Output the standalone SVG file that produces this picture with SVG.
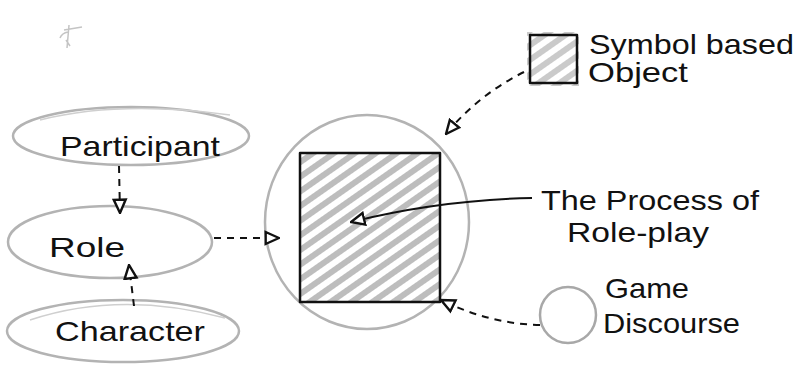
<svg xmlns="http://www.w3.org/2000/svg" width="799" height="374" viewBox="0 0 799 374">
<style>
.bg{fill:#ffffff}
.oval{fill:none;stroke:#b3b3b3;stroke-width:2.5}
.oval2{fill:none;stroke:#cfcfcf;stroke-width:1.5}
.ink{fill:none;stroke:#111;stroke-width:2.5;stroke-linejoin:round}
.lbl{font-family:"Liberation Sans",Arial,sans-serif;font-size:28px;fill:#111}
.dash{fill:none;stroke:#111;stroke-width:2;stroke-dasharray:7 6}
.solid{fill:none;stroke:#111;stroke-width:2}
</style>
<defs>
<pattern id="hatch" patternUnits="userSpaceOnUse" width="12" height="12" patternTransform="rotate(-35)">
<rect width="12" height="12" fill="#ffffff"/>
<rect y="2" width="12" height="6" fill="#bdbdbd"/>
</pattern>
<marker id="tri" viewBox="0 0 12 12" refX="11" refY="6" markerWidth="16" markerHeight="16" markerUnits="userSpaceOnUse" orient="auto">
<path d="M1,1.5 L11,6 L1,10.5 Z" fill="#fff" stroke="#111" stroke-width="1.8"/>
</marker>
</defs>
<rect class="bg" width="799" height="374"/>
<path d="M64,30 L82,27 M69,25 L67,48 M60,38 Q62,33 68,32 M66,40 L70,46" fill="none" stroke="#c4c4c4" stroke-width="1.5"/>

<g id="participant">
<ellipse class="oval" cx="131" cy="136" rx="118" ry="29"/>
<path class="oval2" d="M40,120 Q120,100 230,115"/>
<text class="lbl" x="140" y="156" text-anchor="middle" textLength="160" lengthAdjust="spacingAndGlyphs">Participant</text>
</g>
<g id="role">
<ellipse class="oval" cx="110" cy="242" rx="102" ry="36"/>
<text class="lbl" x="87" y="257" text-anchor="middle" textLength="76" lengthAdjust="spacingAndGlyphs">Role</text>
</g>
<g id="character">
<ellipse class="oval" cx="123" cy="331" rx="116" ry="31"/>
<path class="oval2" d="M30,320 Q120,290 225,318"/>
<text class="lbl" x="130" y="341" text-anchor="middle" textLength="150" lengthAdjust="spacingAndGlyphs">Character</text>
</g>
<g id="process">
<ellipse class="oval" cx="367" cy="222" rx="102" ry="107"/>
<rect x="300" y="153" width="140" height="149" fill="url(#hatch)"/>
<rect class="ink" x="300" y="153" width="140" height="149"/>
</g>
<g id="symbol-object">
<rect x="527" y="32" width="52" height="54" fill="url(#hatch)" opacity="0.8"/>
<rect class="ink" x="530" y="35" width="47" height="48"/>
<text class="lbl" x="589" y="54" textLength="205" lengthAdjust="spacingAndGlyphs">Symbol based</text>
<text class="lbl" x="588" y="82" textLength="100" lengthAdjust="spacingAndGlyphs">Object</text>
</g>
<g id="process-label">
<text class="lbl" x="541" y="210" textLength="218" lengthAdjust="spacingAndGlyphs">The Process of</text>
<text class="lbl" x="567" y="242" textLength="142" lengthAdjust="spacingAndGlyphs">Role-play</text>
</g>
<g id="game-discourse">
<circle cx="568" cy="315" r="28" fill="none" stroke="#a8a8a8" stroke-width="2.5"/>
<text class="lbl" x="605" y="298" textLength="84" lengthAdjust="spacingAndGlyphs">Game</text>
<text class="lbl" x="603" y="333" textLength="137" lengthAdjust="spacingAndGlyphs">Discourse</text>
</g>

<g id="connectors">
<path class="dash" d="M119,166 L120,213" marker-end="url(#tri)"/>
<path class="dash" d="M134,306 L129,265" marker-end="url(#tri)"/>
<path class="dash" d="M214,238 L279,238" marker-end="url(#tri)"/>
<path class="dash" d="M524,72 Q478,95 446,134" marker-end="url(#tri)"/>
<path class="dash" d="M540,325 Q490,324 441,300" marker-end="url(#tri)"/>
<path class="solid" d="M532,198 Q440,200 351,222" marker-end="url(#tri)"/>
</g>
</svg>
